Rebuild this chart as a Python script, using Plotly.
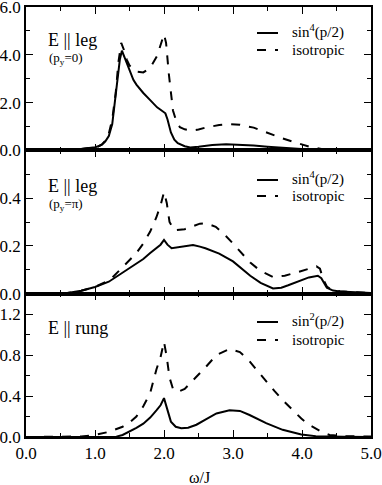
import plotly.graph_objects as go
from plotly.subplots import make_subplots

# Panel 1: E || leg, p_y = 0
w_leg0_sin = [0.0, 0.3, 0.5, 0.7, 0.8, 0.9, 1.0, 1.05, 1.1, 1.15, 1.2, 1.25, 1.29, 1.33, 1.36, 1.39,
              1.42, 1.46, 1.5, 1.556, 1.6, 1.7, 1.8, 1.845, 1.9, 1.95, 1.99, 2.02, 2.05, 2.1, 2.15,
              2.2, 2.3, 2.38, 2.5, 2.7, 2.9, 3.1, 3.3, 3.5, 3.7, 3.9, 4.1, 4.3, 4.5, 5.0]
s_leg0_sin = [0.0, 0.01, 0.02, 0.04, 0.06, 0.09, 0.13, 0.17, 0.24, 0.38, 0.6, 1.1, 2.0, 3.1, 3.8, 4.17,
              3.95, 3.6, 3.3, 2.95, 2.75, 2.4, 2.1, 1.95, 1.8, 1.7, 1.62, 1.55, 1.3, 0.75, 0.45,
              0.3, 0.17, 0.12, 0.15, 0.22, 0.25, 0.24, 0.2, 0.15, 0.1, 0.06, 0.03, 0.01, 0.005, 0.0]
w_leg0_iso = [0.0, 0.3, 0.5, 0.7, 0.8, 0.9, 1.0, 1.05, 1.1, 1.15, 1.2, 1.25, 1.3, 1.34, 1.38,
              1.42, 1.46, 1.5, 1.6, 1.7, 1.8, 1.9, 1.95, 2.0, 2.03, 2.07, 2.13, 2.18, 2.23, 2.3,
              2.4, 2.5, 2.6, 2.8, 2.95, 3.1, 3.3, 3.5, 3.7, 3.9, 4.1, 4.3, 4.5, 5.0]
s_leg0_iso = [0.0, 0.01, 0.02, 0.04, 0.06, 0.09, 0.13, 0.17, 0.25, 0.4, 0.7, 1.3, 2.4, 3.7, 4.5,
              4.2, 3.8, 3.55, 3.3, 3.26, 3.45, 3.95, 4.4, 4.86, 4.5, 3.2, 1.67, 1.2, 0.97, 0.88,
              0.83, 0.87, 0.95, 1.06, 1.1, 1.07, 0.95, 0.72, 0.52, 0.33, 0.16, 0.05, 0.01, 0.0]

# Panel 2: E || leg, p_y = pi
w_legpi_sin = [0.0, 0.5, 0.6, 0.8, 1.0, 1.2, 1.46, 1.6, 1.7, 1.8, 1.89, 1.95, 2.0, 2.05, 2.11,
               2.2, 2.42, 2.52, 2.6, 2.8, 3.0, 3.25, 3.4, 3.58, 3.7, 3.8, 3.97, 4.1, 4.23, 4.28,
               4.36, 4.45, 4.55, 4.8, 5.0]
s_legpi_sin = [0.0, 0.0, 0.003, 0.012, 0.028, 0.05, 0.1, 0.125, 0.145, 0.17, 0.19, 0.205, 0.225, 0.205, 0.19,
               0.195, 0.204, 0.197, 0.19, 0.168, 0.135, 0.075, 0.045, 0.022, 0.025, 0.035, 0.055, 0.068, 0.075, 0.065,
               0.025, 0.013, 0.009, 0.005, 0.003]
w_legpi_iso = [0.0, 0.5, 0.6, 0.8, 1.0, 1.22, 1.46, 1.6, 1.7, 1.8, 1.89, 1.95, 2.0, 2.04, 2.08,
               2.15, 2.3, 2.45, 2.52, 2.6, 2.75, 2.9, 3.0, 3.25, 3.4, 3.58, 3.75, 3.97, 4.1, 4.21,
               4.26, 4.31, 4.36, 4.42, 4.55, 4.8, 5.0]
s_legpi_iso = [0.0, 0.0, 0.003, 0.012, 0.028, 0.058, 0.13, 0.17, 0.21, 0.26, 0.32, 0.37, 0.425, 0.38, 0.3,
               0.265, 0.27, 0.285, 0.293, 0.295, 0.28, 0.24, 0.21, 0.13, 0.095, 0.07, 0.075, 0.093, 0.105, 0.114,
               0.105, 0.058, 0.03, 0.018, 0.01, 0.005, 0.003]

# Panel 3: E || rung
w_rung_sin = [0.0, 1.2, 1.31, 1.4, 1.46, 1.6, 1.7, 1.8, 1.89, 1.95, 2.0, 2.04, 2.1, 2.17, 2.25,
              2.35, 2.47, 2.6, 2.76, 2.95, 3.1, 3.24, 3.48, 3.72, 3.99, 4.2, 4.4, 4.6, 5.0]
s_rung_sin = [0.0, 0.0, 0.003, 0.02, 0.04, 0.09, 0.13, 0.19, 0.26, 0.31, 0.38, 0.28, 0.15, 0.1, 0.085,
              0.09, 0.12, 0.17, 0.23, 0.262, 0.255, 0.215, 0.135, 0.07, 0.025, 0.008, 0.003, 0.002, 0.0]
w_rung_iso = [0.0, 0.6, 0.8, 1.0, 1.2, 1.4, 1.5, 1.6, 1.7, 1.8, 1.89, 1.95, 2.0, 2.04, 2.08,
              2.13, 2.2, 2.3, 2.4, 2.52, 2.6, 2.76, 2.95, 3.1, 3.24, 3.35, 3.48, 3.6, 3.72, 3.85,
              3.99, 4.1, 4.2, 4.3, 4.4, 4.6, 5.0]
s_rung_iso = [0.0, 0.0, 0.005, 0.02, 0.05, 0.1, 0.14, 0.2, 0.3, 0.43, 0.66, 0.78, 0.93, 0.78, 0.58,
              0.47, 0.44, 0.47, 0.54, 0.62, 0.68, 0.8, 0.86, 0.83, 0.74, 0.65, 0.54, 0.45, 0.36, 0.27,
              0.18, 0.12, 0.08, 0.045, 0.02, 0.008, 0.005]

FONT = "Liberation Serif"

panels = [
    (w_leg0_sin, s_leg0_sin, w_leg0_iso, s_leg0_iso),
    (w_legpi_sin, s_legpi_sin, w_legpi_iso, s_legpi_iso),
    (w_rung_sin, s_rung_sin, w_rung_iso, s_rung_iso),
]

fig = make_subplots(rows=3, cols=1, shared_xaxes=True, vertical_spacing=0)

for i, (wa, sa, wb, sb) in enumerate(panels):
    fig.add_trace(go.Scatter(x=wa, y=sa, mode="lines", line=dict(color="black", width=2),
                             showlegend=False), row=i + 1, col=1)
    fig.add_trace(go.Scatter(x=wb, y=sb, mode="lines", line=dict(color="black", width=2, dash="dash"),
                             showlegend=False), row=i + 1, col=1)

ax = dict(showline=True, linecolor="black", linewidth=1.5, mirror="ticks", ticks="inside",
          ticklen=7, tickwidth=1.2, tickcolor="black", showgrid=False, zeroline=False,
          automargin=False, ticklabeloverflow="allow",
          tickfont=dict(family=FONT, size=17, color="black"))

for r in range(1, 4):
    fig.update_xaxes(range=[0, 5], dtick=1, tick0=0, tickformat=".1f",
                     minor=dict(ticks="inside", ticklen=4, dtick=0.5, tick0=0, tickcolor="black"),
                     showticklabels=(r == 3), row=r, col=1, **ax)

fig.update_yaxes(range=[0, 6], tickvals=[0, 2, 4, 6], tickformat=".1f",
                 minor=dict(ticks="inside", ticklen=4, dtick=1, tick0=0, tickcolor="black"),
                 row=1, col=1, **ax)
fig.update_yaxes(range=[0, 0.6], tickvals=[0, 0.2, 0.4], tickformat=".1f",
                 minor=dict(ticks="inside", ticklen=4, dtick=0.1, tick0=0, tickcolor="black"),
                 row=2, col=1, **ax)
fig.update_yaxes(range=[0, 1.4], tickvals=[0, 0.4, 0.8, 1.2], tickformat=".1f",
                 minor=dict(ticks="inside", ticklen=4, dtick=0.2, tick0=0, tickcolor="black"),
                 row=3, col=1, **ax)

W, H = 382, 485
ML, MR, MT, MB = 26, 11, 7, 48
pw, ph = W - ML - MR, H - MT - MB


def px(x, y):
    return (x - ML) / pw, (H - MB - y) / ph


annots = []
shapes = []


def text(x, y, s, size, xanchor="left"):
    xp, yp = px(x, y)
    annots.append(dict(x=xp, y=yp, xref="paper", yref="paper", text=s, showarrow=False,
                       xanchor=xanchor, yanchor="middle",
                       font=dict(family=FONT, size=size, color="black")))


def sample(y, dash):
    x0, yp = px(257, y)
    x1, _ = px(278, y)
    shapes.append(dict(type="line", xref="paper", yref="paper", x0=x0, x1=x1, y0=yp, y1=yp,
                       line=dict(color="black", width=2, dash=dash)))


# panel labels
text(46, 40, "E || leg", 18)
text(47, 58, "(p<sub>y</sub>=0)", 13)
text(46, 186, "E || leg", 18)
text(47, 204, "(p<sub>y</sub>=π)", 13)
text(46, 328, "E || rung", 18)

# legends
legend_rows = [(33, 50, "sin<sup>4</sup>(p/2)"), (180, 196, "sin<sup>4</sup>(p/2)"),
               (322, 340, "sin<sup>2</sup>(p/2)")]
for ys, yd, lab in legend_rows:
    sample(ys, "solid")
    sample(yd, "dash")
    text(290, ys - 2, lab, 15)
    text(290, yd, "isotropic", 15)

text(199, 477, "ω/J", 16, xanchor="center")

fig.update_layout(width=W, height=H, margin=dict(l=ML, r=MR, t=MT, b=MB, autoexpand=False),
                  paper_bgcolor="white", plot_bgcolor="white",
                  annotations=annots, shapes=shapes, showlegend=False)

# the default page keeps the browser's 8px body margin
fig.write_html("out.html", config={"displayModeBar": False},
               post_script="document.body.style.margin = '0';")
